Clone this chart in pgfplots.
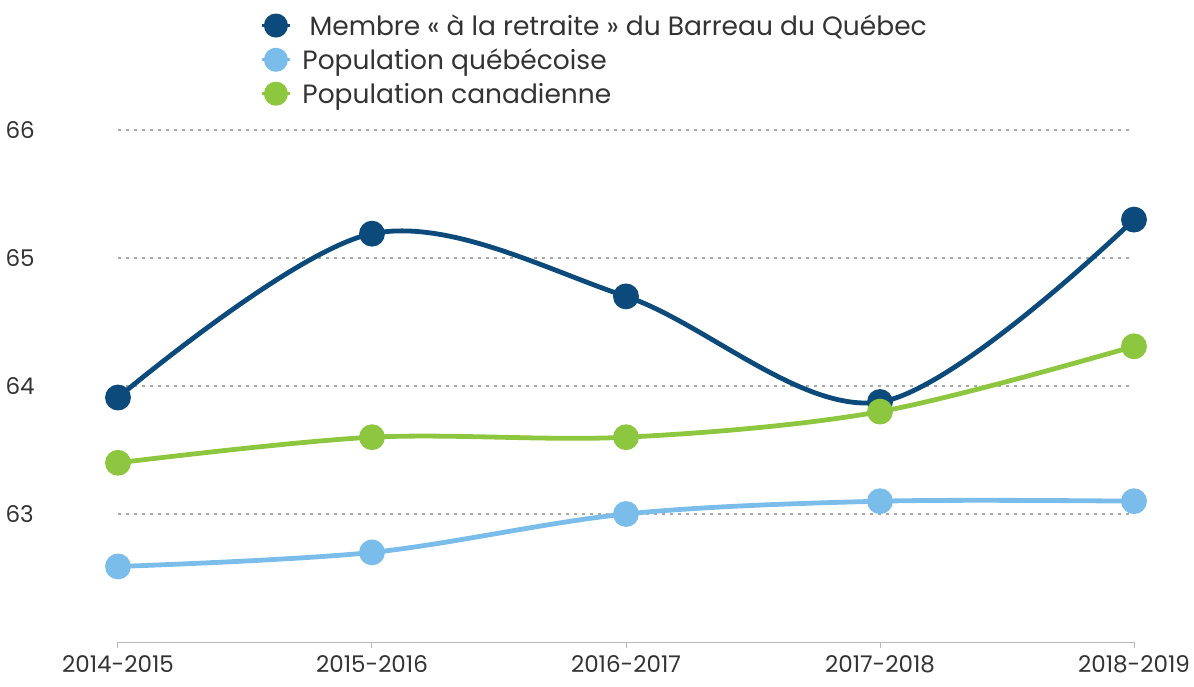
\documentclass[border=0pt]{standalone}
\usepackage{pgfplots}
\pgfplotsset{compat=1.18}
\usepackage{fontspec}
\setmainfont{Poppins}
\definecolor{cdark}{HTML}{0B4A7A}
\definecolor{clight}{HTML}{7ABDEA}
\definecolor{cgreen}{HTML}{8DC63F}
\definecolor{ctext}{HTML}{333333}
\definecolor{cgrid}{HTML}{A8A8A8}
\begin{document}
\begin{tikzpicture}
\begin{axis}[
  scale only axis,
  width=1016pt, height=512pt,
  xmin=0, xmax=4, ymin=62, ymax=66,
  xtick={0,1,2,3,4},
  xticklabels={2014-2015,2015-2016,2016-2017,2017-2018,2018-2019},
  ytick={63,64,65,66},
  clip=false,
  axis x line*=bottom, axis y line*=left,
  x axis line style={draw=cgrid!80, line width=1pt, -},
  y axis line style={draw=none},
  xtick style={draw=cgrid!80, line width=1pt},
  ytick style={draw=none},
  tick align=outside, major tick length=6pt,
  ymajorgrids,
  grid style={draw=cgrid, line width=2.6pt, dash pattern=on 2.6pt off 5.4pt},
  tick label style={font=\fontsize{23}{27}\selectfont, text=ctext},
  yticklabel style={anchor=west, xshift=-110pt},
  xticklabel style={yshift=-4pt},
  /pgf/number format/assume math mode=true,
  legend style={at={(0.14,1.23)}, anchor=north west, draw=none, fill=none,
    font=\fontsize{26.5}{30}\selectfont, text=ctext, row sep=8pt,
    legend cell align=left, inner sep=0pt},
  legend image code/.code={\draw[#1, line width=3pt, mark repeat=2, mark phase=2] plot coordinates {(0pt,0pt) (14pt,0pt) (28pt,0pt)};},
  every axis plot/.append style={line width=4.8pt, smooth, tension=0.55, mark=*, mark size=10.5pt, mark options={line width=0pt}},
]
\addplot[cdark, mark options={fill=cdark, draw=cdark}] coordinates {(0,63.91) (1,65.19) (2,64.70) (3,63.875) (4,65.30)};
\addlegendentry{\hspace{9pt}\ Membre « à la retraite » du Barreau du Québec}
\addplot[clight, mark options={fill=clight, draw=clight}] coordinates {(0,62.59) (1,62.70) (2,63.0) (3,63.10) (4,63.10)};
\addlegendentry{\hspace{9pt}Population québécoise}
\addplot[cgreen, mark options={fill=cgreen, draw=cgreen}] coordinates {(0,63.40) (1,63.60) (2,63.60) (3,63.80) (4,64.31)};
\addlegendentry{\hspace{9pt}Population canadienne}
\coordinate (bl) at (rel axis cs:0,0);
\end{axis}
\pgfresetboundingbox
\path[use as bounding box] ([shift={(-118pt,-44pt)}]bl) rectangle ++(1194pt,686pt);
\end{tikzpicture}
\end{document}
